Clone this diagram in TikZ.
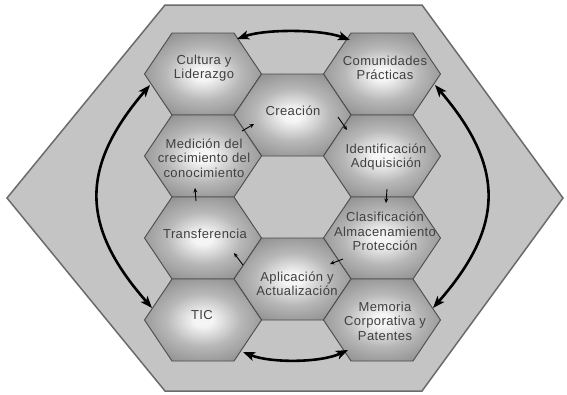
\documentclass[tikz,border=0pt]{standalone}
\usepackage{fontspec}
\usetikzlibrary{arrows.meta}
\newfontfamily\hexfont{Liberation Sans}[LetterSpace=3]
\definecolor{bigfill}{gray}{0.77}
\definecolor{bigline}{gray}{0.42}
\definecolor{hexline}{gray}{0.30}
\definecolor{txt}{gray}{0.25}
\definecolor{hcA}{gray}{0.96}
\definecolor{hcB}{gray}{0.72}
\definecolor{hcC}{gray}{0.55}
\definecolor{hcD}{gray}{0.45}
\definecolor{hcE}{gray}{0.40}
\pgfdeclareradialshading{hexshade}{\pgfpoint{0bp}{0bp}}{color(0bp)=(hcA); color(4bp)=(hcA); color(16bp)=(hcB); color(30bp)=(hcC); color(42bp)=(hcD); color(50bp)=(hcE)}
\tikzset{
  hexa/.pic={\path[shade, shading=hexshade, draw=hexline, line width=0.9pt, line join=miter]
     (-58.5,0) -- (-31,-41) -- (31,-41) -- (58.5,0) -- (31,41) -- (-31,41) -- cycle;},
  lbl/.style={font=\hexfont\fontsize{13}{14.5}\selectfont, text=txt, align=center, inner sep=0pt},
  bigarrow/.style={line width=2.6pt, black, {Stealth[length=12pt,width=9pt,inset=3pt]}-{Stealth[length=12pt,width=9pt,inset=3pt]}},
  smallarrow/.style={line width=0.9pt, black, -{Stealth[length=4.5pt,width=4pt]}}
}
\begin{document}
\begin{tikzpicture}[x=1pt,y=-1pt]
\useasboundingbox (0,0) rectangle (567,394);
\fill[white] (0,0) rectangle (567,394);
\draw[bigline, fill=bigfill, line width=1.5pt, line join=miter]
  (165,5) -- (422,5) -- (563,198) -- (422,391) -- (165,391) -- (7,198) -- cycle;
% hexagon centres
\coordinate (hcul) at (203,74);
\coordinate (hcom) at (382,74);
\coordinate (hcre) at (292.5,115);
\coordinate (hmed) at (203,156);
\coordinate (hide) at (382,156);
\coordinate (htra) at (203,238);
\coordinate (hcla) at (382,238);
\coordinate (hapl) at (292.5,279);
\coordinate (htic) at (203,320);
\coordinate (hmem) at (382,320);
\foreach \h in {hcul,hcom,hcre,hmed,hide,htra,hcla,hapl,htic,hmem} {\pic at (\h) {hexa};}
% labels
\node[lbl] (cul) at (204,68) {Cultura y\\Liderazgo};
\node[lbl] (com) at (385,68) {Comunidades\\Prácticas};
\node[lbl] (cre) at (293,110.5) {Creación};
\node[lbl] (med) at (204,158) {Medición del\\crecimiento del\\conocimiento};
\node[lbl] (ide) at (386,157) {Identificación\\Adquisición};
\node[lbl] (tra) at (205,233.5) {Transferencia};
\node[lbl] (cla) at (385,231.5) {Clasificación\\Almacenamiento\\Protección};
\node[lbl] (apl) at (297,284) {Aplicación y\\Actualización};
\node[lbl] (tic) at (202,315.5) {TIC};
\node[lbl] (mem) at (385,321) {Memoria\\Corporativa y\\Patentes};
% big arrow ends
\coordinate (tL) at (237,39);
\coordinate (tR) at (350,40);
\coordinate (lT) at (150,85);
\coordinate (lB) at (152,308);
\coordinate (rT) at (435,85);
\coordinate (rB) at (433,308);
\coordinate (bL) at (243,352);
\coordinate (bR) at (348,350);
\draw[bigarrow] (tL) .. controls (265,29) and (320,29) .. (tR);
\draw[bigarrow] (lT) .. controls (80,167) and (80,226) .. (lB);
\draw[bigarrow] (rT) .. controls (505,167) and (505,226) .. (rB);
\draw[bigarrow] (bL) .. controls (270,363) and (320,363) .. (bR);
% small arrow ends
\coordinate (a1s) at (242,131); \coordinate (a1e) at (254,124);
\coordinate (a2s) at (338,117); \coordinate (a2e) at (347,130);
\coordinate (a3s) at (387,189); \coordinate (a3e) at (386,203);
\coordinate (a4s) at (343,259); \coordinate (a4e) at (330,264);
\coordinate (a5s) at (243,265); \coordinate (a5e) at (234,253);
\coordinate (a6s) at (196,201); \coordinate (a6e) at (195,188);
\draw[smallarrow] (a1s) -- (a1e);
\draw[smallarrow] (a2s) -- (a2e);
\draw[smallarrow] (a3s) -- (a3e);
\draw[smallarrow] (a4s) -- (a4e);
\draw[smallarrow] (a5s) -- (a5e);
\draw[smallarrow] (a6s) -- (a6e);
\end{tikzpicture}
\end{document}
